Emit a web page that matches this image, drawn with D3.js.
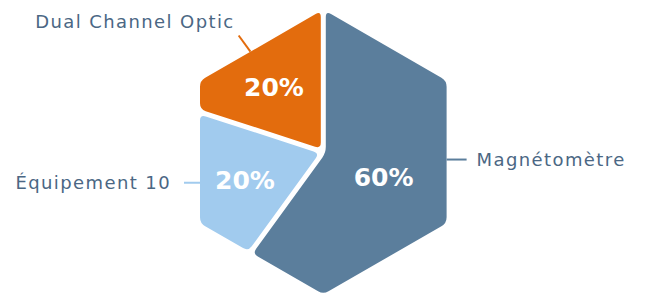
<!DOCTYPE html>
<html>
<head>
<meta charset="utf-8">
<script src="https://cdn.jsdelivr.net/npm/d3@7.9.0/dist/d3.min.js"></script>
<style>
  html, body { margin: 0; padding: 0; background: #fff; }
  svg { display: block; }
</style>
</head>
<body>
<div id="chart"></div>
<script>
const categories = ['Magnétomètre', 'Équipement 10', 'Dual Channel Optic'];
const values = [60, 20, 20];
const colors = ['#5b7e9c', '#a1cbee', '#e36c0d'];

const width = 648;
const height = 296;
const cx = 323.3, cy = 152;
const gap = 5;          // white gap between slices
const corner = 6;       // corner rounding
const apothemVisible = 123.3;
const R = (apothemVisible + gap / 2) / Math.cos(Math.PI / 6);
const textColor = '#4b6784';

// where the leader lines leave the hexagon (degrees clockwise from top)
const labelAngles = [93.5, 256, 324];

const svg = d3.select('#chart')
  .append('svg')
  .attr('width', width)
  .attr('height', height);

const pie = d3.pie().sort(null).value(d => d.value);
const arcs = pie(categories.map((c, i) => ({ name: c, value: values[i], color: colors[i] })));
const total = d3.sum(values);

// distance from centre to the hexagon edge along angle a (pointy top)
function hexDist(a, r) {
  const step = Math.PI / 3;
  const normal = Math.PI / 6 + step * Math.floor(a / step);
  return r * Math.cos(Math.PI / 6) / Math.cos(a - normal);
}
function hexPoint(a, r) {
  const d = hexDist(a, r);
  return [cx + d * Math.sin(a), cy - d * Math.cos(a)];
}

function slicePolygon(a0, a1) {
  const pts = [[cx, cy], hexPoint(a0, R)];
  for (let k = 0; k <= 6; k++) {
    const a = k * Math.PI / 3;
    if (a > a0 + 1e-6 && a < a1 - 1e-6) pts.push(hexPoint(a, R));
  }
  pts.push(hexPoint(a1, R));
  // drop duplicates
  return pts.filter((p, i) => {
    const q = pts[(i + pts.length - 1) % pts.length];
    return Math.hypot(p[0] - q[0], p[1] - q[1]) > 0.5;
  });
}

// move every edge inward by d
function insetPolygon(pts, d) {
  const n = pts.length;
  const sign = d3.polygonArea(pts) > 0 ? -1 : 1;
  const lines = pts.map((p, i) => {
    const q = pts[(i + 1) % n];
    const dx = q[0] - p[0], dy = q[1] - p[1];
    const len = Math.hypot(dx, dy);
    const nx = -dy / len * sign, ny = dx / len * sign;
    return { p: [p[0] + nx * d, p[1] + ny * d], v: [dx, dy] };
  });
  return lines.map((l, i) => {
    const m = lines[(i + n - 1) % n];
    const den = m.v[0] * l.v[1] - m.v[1] * l.v[0];
    if (Math.abs(den) < 1e-9) return l.p;
    const t = ((l.p[0] - m.p[0]) * l.v[1] - (l.p[1] - m.p[1]) * l.v[0]) / den;
    return [m.p[0] + m.v[0] * t, m.p[1] + m.v[1] * t];
  });
}

function roundedPath(pts, r) {
  const n = pts.length;
  const path = d3.path();
  pts.forEach((v, i) => {
    const prev = pts[(i + n - 1) % n], next = pts[(i + 1) % n];
    const l1 = Math.hypot(prev[0] - v[0], prev[1] - v[1]);
    const l2 = Math.hypot(next[0] - v[0], next[1] - v[1]);
    const t1 = Math.min(r, l1 * 0.45), t2 = Math.min(r, l2 * 0.45);
    const pin = [v[0] + (prev[0] - v[0]) / l1 * t1, v[1] + (prev[1] - v[1]) / l1 * t1];
    const pout = [v[0] + (next[0] - v[0]) / l2 * t2, v[1] + (next[1] - v[1]) / l2 * t2];
    if (i === 0) path.moveTo(pin[0], pin[1]); else path.lineTo(pin[0], pin[1]);
    path.quadraticCurveTo(v[0], v[1], pout[0], pout[1]);
  });
  path.closePath();
  return path.toString();
}

// point furthest from the edges (label spot); ties go to the one nearest the centroid
function labelSpot(pts) {
  const xs = pts.map(p => p[0]), ys = pts.map(p => p[1]);
  const c = d3.polygonCentroid(pts);
  const cand = [];
  for (let x = d3.min(xs); x <= d3.max(xs); x += 1) {
    for (let y = d3.min(ys); y <= d3.max(ys); y += 1) {
      if (!d3.polygonContains(pts, [x, y])) continue;
      let dmin = Infinity;
      pts.forEach((p, i) => {
        const q = pts[(i + 1) % pts.length];
        const dx = q[0] - p[0], dy = q[1] - p[1];
        let t = ((x - p[0]) * dx + (y - p[1]) * dy) / (dx * dx + dy * dy);
        t = Math.max(0, Math.min(1, t));
        dmin = Math.min(dmin, Math.hypot(x - p[0] - t * dx, y - p[1] - t * dy));
      });
      cand.push({ x, y, dmin });
    }
  }
  const bestD = d3.max(cand, d => d.dmin);
  const near = cand.filter(d => d.dmin >= bestD - 2);
  const best = d3.least(near, d => Math.hypot(d.x - c[0], d.y - c[1]));
  return [best.x, best.y];
}

const slices = arcs.map(a => {
  const poly = insetPolygon(slicePolygon(a.startAngle, a.endAngle), gap / 2);
  return { ...a, poly, label: labelSpot(poly) };
});

svg.append('g')
  .selectAll('path')
  .data(slices)
  .join('path')
  .attr('d', d => roundedPath(d.poly, corner))
  .attr('fill', d => d.data.color);

svg.append('g')
  .selectAll('text')
  .data(slices)
  .join('text')
  .attr('x', d => d.label[0])
  .attr('y', d => d.label[1])
  .attr('dy', '0.36em')
  .attr('text-anchor', 'middle')
  .attr('fill', '#fff')
  .style('font-family', 'DejaVu Sans, sans-serif')
  .style('font-weight', 'bold')
  .style('font-size', '25px')
  .text(d => d3.format('.0%')(d.data.value / total));

// outside labels with leader lines
const rVisible = apothemVisible / Math.cos(Math.PI / 6);
const outer = svg.append('g');
slices.forEach((d, i) => {
  const a = labelAngles[i] * Math.PI / 180;
  const p0 = hexPoint(a, rVisible);
  const side = Math.floor(a / (Math.PI / 3));
  let dir, len = 20;
  if (side === 1) dir = [1, 0];
  else if (side === 4) { dir = [-1, 0]; len = 16; }
  else dir = [Math.sin(a), -Math.cos(a)];
  const p1 = [p0[0] + dir[0] * len, p0[1] + dir[1] * len];
  outer.append('line')
    .attr('x1', p0[0]).attr('y1', p0[1])
    .attr('x2', p1[0]).attr('y2', p1[1])
    .attr('stroke', d.data.color)
    .attr('stroke-width', 2);

  const t = outer.append('text')
    .attr('fill', textColor)
    .style('font-family', 'DejaVu Sans, sans-serif')
    .style('font-size', '18px')
    .style('letter-spacing', '1.4px')
    .text(d.data.name);
  if (side === 1) {
    t.attr('x', p1[0] + 10).attr('y', p1[1]).attr('dy', '0.35em').attr('text-anchor', 'start');
  } else if (side === 4) {
    t.attr('x', p1[0] - 13).attr('y', p1[1]).attr('dy', '0.35em').attr('text-anchor', 'end');
  } else {
    t.attr('x', p1[0] - 4).attr('y', p1[1] - 8).attr('text-anchor', 'end');
  }
});
</script>
</body>
</html>
